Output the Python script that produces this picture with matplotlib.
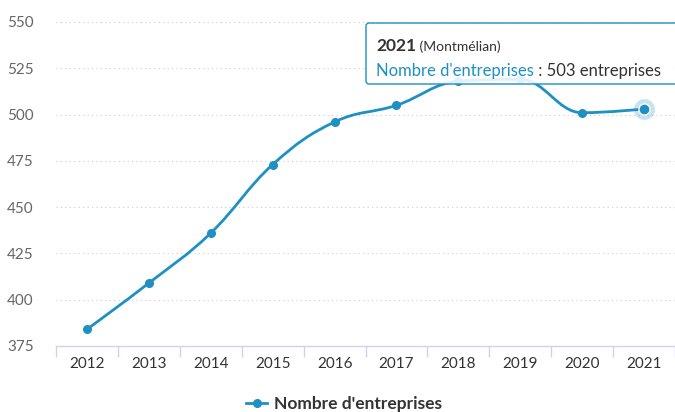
import matplotlib
matplotlib.use("Agg")
import matplotlib.pyplot as plt
from matplotlib.path import Path
from matplotlib.patches import PathPatch, FancyBboxPatch
from matplotlib.lines import Line2D

plt.rcParams['font.family'] = ['Lato', 'DejaVu Sans']

years = ['2012', '2013', '2014', '2015', '2016', '2017', '2018', '2019', '2020', '2021']
entreprises = [384, 409, 436, 473, 496, 505, 518, 519, 501, 503]
y_ticks = [375, 400, 425, 450, 475, 500, 525, 550]

LINE = '#1e90c2'
GRID = '#cccccc'
AXIS = '#ccd6eb'
LABEL = '#666666'


def spline_path(xs, ys, smoothing=1.5):
    # highcharts-like spline: bezier control points per point
    n = len(xs)
    left = [None] * n
    right = [None] * n
    d = smoothing + 1
    for i in range(1, n - 1):
        px, py = xs[i], ys[i]
        lx, ly = xs[i - 1], ys[i - 1]
        nx, ny = xs[i + 1], ys[i + 1]
        lcx = (smoothing * px + lx) / d
        lcy = (smoothing * py + ly) / d
        rcx = (smoothing * px + nx) / d
        rcy = (smoothing * py + ny) / d
        corr = (rcy - lcy) * (rcx - px) / (rcx - lcx) + py - rcy
        lcy += corr
        rcy += corr
        if lcy > ly and lcy > py:
            lcy = max(ly, py)
            rcy = 2 * py - lcy
        elif lcy < ly and lcy < py:
            lcy = min(ly, py)
            rcy = 2 * py - lcy
        if rcy > ny and rcy > py:
            rcy = max(ny, py)
            lcy = 2 * py - rcy
        elif rcy < ny and rcy < py:
            rcy = min(ny, py)
            lcy = 2 * py - rcy
        left[i] = (lcx, lcy)
        right[i] = (rcx, rcy)
    verts = [(xs[0], ys[0])]
    codes = [Path.MOVETO]
    for i in range(1, n):
        c1 = right[i - 1] or (xs[i - 1], ys[i - 1])
        c2 = left[i] or (xs[i], ys[i])
        verts += [c1, c2, (xs[i], ys[i])]
        codes += [Path.CURVE4] * 3
    return Path(verts, codes)


fig = plt.figure(figsize=(6.75, 4.12), dpi=100)
ax = fig.add_axes([56 / 675, 66 / 412, 619 / 675, (346 - 22) / 412])

xs = list(range(len(years)))
ax.add_patch(PathPatch(spline_path(xs, entreprises), fill=False,
                       edgecolor=LINE, lw=2, zorder=3, capstyle='round'))
ax.plot(xs[:-1], entreprises[:-1], 'o', color=LINE, ms=5.5, zorder=4)
ax.plot(xs[-1], entreprises[-1], 'o', color=LINE, ms=15, alpha=0.25, mec='none', zorder=4)
ax.plot(xs[-1], entreprises[-1], 'o', color=LINE, ms=8, mec='white', mew=1, zorder=5)

ax.set_xlim(-0.5, len(years) - 0.5)
ax.set_ylim(375, 550)
ax.set_yticks(y_ticks)
ax.set_yticklabels([str(v) for v in y_ticks], color=LABEL, fontsize=11)
ax.set_xticks(xs)
ax.set_xticklabels(years, color='#333333', fontsize=11)
ax.tick_params(axis='y', length=0, pad=16)
ax.tick_params(axis='x', length=0, pad=8)
ax.set_xticks([x - 0.5 for x in xs] + [len(years) - 0.5], minor=True)
ax.tick_params(axis='x', which='minor', length=8, color=AXIS, width=1)

for v in y_ticks[1:]:
    ax.axhline(v, color=GRID, lw=0.8, ls=(0, (1, 3)), zorder=1)

for s in ['top', 'right', 'left']:
    ax.spines[s].set_visible(False)
ax.spines['bottom'].set_color(AXIS)
ax.spines['bottom'].set_linewidth(1)

# legend
leg_handle = Line2D([], [], color=LINE, marker='o', ms=5.5, lw=2)
fig.legend([leg_handle], ["Nombre d'entreprises"], loc='center',
           bbox_to_anchor=(344 / 675, 1 - 404 / 412), frameon=False,
           prop={'weight': 'bold', 'size': 12.5}, handlelength=1.2,
           handletextpad=0.4, labelcolor='#333333')

# tooltip
tip = FancyBboxPatch((366, 412 - 84), 330, 61, boxstyle='round,pad=0,rounding_size=3',
                     transform=None, facecolor='white', alpha=0.88,
                     edgecolor='none', zorder=10)
fig.patches.append(tip)
tip_edge = FancyBboxPatch((366, 412 - 84), 330, 61, boxstyle='round,pad=0,rounding_size=3',
                          transform=None, facecolor='none',
                          edgecolor=LINE, lw=1, zorder=11)
fig.patches.append(tip_edge)

renderer = fig.canvas.get_renderer()


def chain(x_px, y_px, parts):
    # write text pieces one after another on one line
    for txt, kw in parts:
        t = fig.text(x_px / 675, 1 - y_px / 412, txt, va='baseline', zorder=12, **kw)
        x_px += t.get_window_extent(renderer).width


chain(376, 51, [('2021', dict(fontsize=12.5, fontweight='bold', color='#333333')),
                (' (Montmélian)', dict(fontsize=10, color='#333333'))])
chain(376, 76, [("Nombre d'entreprises", dict(fontsize=12, color=LINE)),
                (' : 503 entreprises', dict(fontsize=12, color='#333333'))])

fig.savefig('out.png', dpi=100)
